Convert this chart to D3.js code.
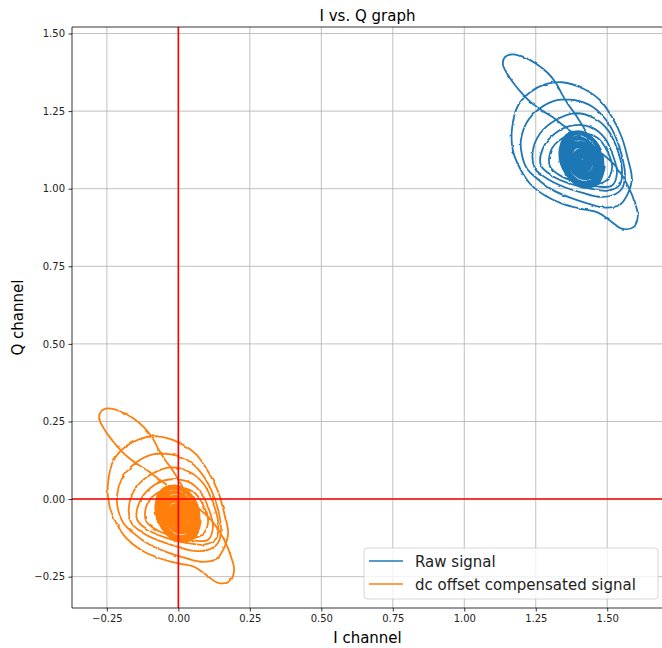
<!DOCTYPE html>
<html>
<head>
<meta charset="utf-8">
<script src="https://cdn.jsdelivr.net/npm/d3@7"></script>
<style>
  body { margin: 0; background: #fff; }
  text { font-family: "DejaVu Sans", sans-serif; }
</style>
</head>
<body>
<script>
// I/Q samples, [I, Q]
const rawSignal = [
  [1.415,1.123],[1.433,1.162],[1.391,1.236],[1.363,1.272],[1.342,1.304],[1.321,1.340],[1.293,1.372],[1.254,1.401],[1.209,1.424],[1.167,1.433],
  [1.142,1.424],[1.135,1.401],[1.149,1.372],[1.170,1.343],[1.198,1.311],[1.233,1.278],[1.272,1.252],[1.310,1.230],[1.342,1.207],[1.377,1.184],
  [1.422,1.155],[1.468,1.123],[1.527,1.075],[1.572,1.010],[1.600,0.945],[1.607,0.913],[1.593,0.877],[1.551,0.871],[1.510,0.897],[1.468,0.923],
  [1.405,0.936],[1.342,0.952],[1.282,0.978],[1.230,1.016],[1.195,1.065],[1.170,1.123],[1.167,1.194],[1.188,1.268],[1.230,1.311],[1.282,1.336],
  [1.342,1.343],[1.415,1.323],[1.475,1.285],[1.517,1.230],[1.551,1.165],[1.572,1.097],[1.586,1.033],[1.572,0.984],[1.544,0.948],[1.492,0.939],
  [1.433,0.952],[1.370,0.971],[1.307,0.997],[1.254,1.033],[1.219,1.065],[1.202,1.107],[1.198,1.155],[1.219,1.214],[1.265,1.259],[1.324,1.285],
  [1.387,1.285],[1.447,1.265],[1.492,1.226],[1.527,1.172],[1.551,1.107],[1.562,1.042],[1.551,1.000],[1.517,0.978],[1.468,0.974],[1.412,0.987],
  [1.345,1.007],[1.289,1.033],[1.247,1.065],[1.240,1.123],[1.265,1.178],[1.317,1.220],[1.387,1.243],[1.457,1.226],[1.503,1.188],[1.534,1.130],
  [1.551,1.068],[1.544,1.013],[1.503,0.994],[1.440,1.000],[1.370,1.016],[1.307,1.042],[1.268,1.075],[1.275,1.130],[1.317,1.178],[1.380,1.204],
  [1.447,1.197],[1.492,1.162],[1.520,1.107],[1.534,1.052],[1.517,1.010],[1.468,1.007],[1.405,1.020],[1.342,1.039],[1.300,1.071],[1.303,1.123],
  [1.342,1.162],[1.405,1.178],[1.464,1.165],[1.499,1.123],[1.517,1.068],[1.496,1.026],[1.447,1.016],
  [1.489,1.073],[1.466,1.017],[1.412,1.007],[1.358,1.048],[1.335,1.115],[1.358,1.171],[1.412,1.181],[1.466,1.140],
  [1.484,1.077],[1.464,1.026],[1.414,1.017],[1.365,1.054],[1.344,1.115],[1.365,1.166],[1.414,1.175],[1.464,1.138],
  [1.473,1.075],[1.455,1.030],[1.410,1.021],[1.366,1.054],[1.347,1.110],[1.366,1.155],[1.410,1.163],[1.455,1.130],
  [1.469,1.082],[1.453,1.042],[1.413,1.034],[1.373,1.064],[1.357,1.113],[1.373,1.153],[1.413,1.160],[1.453,1.131],
  [1.460,1.079],[1.446,1.045],[1.411,1.038],[1.376,1.064],[1.362,1.107],[1.376,1.142],[1.411,1.148],[1.446,1.122],
  [1.456,1.083],[1.444,1.054],[1.414,1.048],[1.384,1.070],[1.372,1.107],[1.384,1.136],[1.414,1.142],[1.444,1.120],
  [1.445,1.086],[1.435,1.062],[1.410,1.057],[1.385,1.075],[1.375,1.106],[1.385,1.131],[1.410,1.135],[1.435,1.117],
  [1.441,1.085],[1.433,1.066],[1.413,1.062],[1.393,1.077],[1.385,1.101],[1.393,1.120],[1.413,1.124],[1.433,1.109],
  [1.432,1.089],[1.426,1.075],[1.411,1.072],[1.396,1.083],[1.390,1.101],[1.396,1.115],[1.411,1.118],[1.426,1.107],
  [1.427,1.090],[1.423,1.081],[1.413,1.079],[1.403,1.086],[1.399,1.098],[1.403,1.107],[1.413,1.109],[1.423,1.102],
  [1.419,1.093],[1.417,1.088],[1.412,1.087],[1.407,1.091],[1.405,1.097],[1.407,1.102],[1.412,1.103],[1.417,1.099]
];

const compensatedSignal = [
  [0.002,-0.018],[0.020,0.021],[-0.022,0.095],[-0.050,0.131],[-0.071,0.163],[-0.092,0.199],[-0.120,0.231],[-0.158,0.260],[-0.204,0.283],[-0.246,0.292],
  [-0.270,0.283],[-0.277,0.260],[-0.263,0.231],[-0.242,0.202],[-0.214,0.170],[-0.179,0.137],[-0.141,0.111],[-0.103,0.089],[-0.071,0.066],[-0.036,0.043],
  [0.009,0.014],[0.055,-0.018],[0.114,-0.067],[0.160,-0.131],[0.188,-0.196],[0.195,-0.228],[0.181,-0.264],[0.139,-0.270],[0.097,-0.244],[0.055,-0.218],
  [-0.008,-0.206],[-0.071,-0.189],[-0.131,-0.164],[-0.183,-0.125],[-0.218,-0.076],[-0.242,-0.018],[-0.246,0.053],[-0.225,0.127],[-0.183,0.170],[-0.131,0.195],
  [-0.071,0.202],[0.002,0.182],[0.062,0.144],[0.104,0.089],[0.139,0.024],[0.160,-0.044],[0.174,-0.109],[0.160,-0.157],[0.132,-0.193],[0.079,-0.202],
  [0.020,-0.189],[-0.043,-0.170],[-0.106,-0.144],[-0.158,-0.109],[-0.193,-0.076],[-0.211,-0.034],[-0.214,0.014],[-0.193,0.073],[-0.148,0.118],[-0.089,0.144],
  [-0.026,0.144],[0.034,0.124],[0.079,0.085],[0.114,0.031],[0.139,-0.034],[0.149,-0.099],[0.139,-0.141],[0.104,-0.164],[0.055,-0.167],[-0.001,-0.154],
  [-0.068,-0.134],[-0.124,-0.109],[-0.165,-0.076],[-0.172,-0.018],[-0.148,0.037],[-0.096,0.079],[-0.026,0.102],[0.044,0.085],[0.090,0.047],[0.121,-0.012],
  [0.139,-0.073],[0.132,-0.128],[0.090,-0.147],[0.027,-0.141],[-0.043,-0.125],[-0.106,-0.099],[-0.144,-0.067],[-0.137,-0.012],[-0.096,0.037],[-0.033,0.063],
  [0.034,0.056],[0.079,0.021],[0.107,-0.034],[0.121,-0.089],[0.104,-0.131],[0.055,-0.134],[-0.008,-0.122],[-0.071,-0.102],[-0.113,-0.070],[-0.110,-0.018],
  [-0.071,0.021],[-0.008,0.037],[0.051,0.024],[0.086,-0.018],[0.104,-0.073],[0.083,-0.115],[0.034,-0.125],
  [0.076,-0.068],[0.054,-0.124],[-0.001,-0.134],[-0.055,-0.093],[-0.078,-0.026],[-0.055,0.030],[-0.001,0.040],[0.054,-0.001],
  [0.071,-0.064],[0.051,-0.115],[0.001,-0.124],[-0.048,-0.087],[-0.069,-0.026],[-0.048,0.025],[0.001,0.034],[0.051,-0.003],
  [0.060,-0.067],[0.042,-0.112],[-0.003,-0.120],[-0.047,-0.087],[-0.066,-0.032],[-0.047,0.014],[-0.003,0.022],[0.042,-0.011],
  [0.056,-0.060],[0.040,-0.100],[0.000,-0.107],[-0.039,-0.078],[-0.056,-0.029],[-0.039,0.012],[0.000,0.019],[0.040,-0.011],
  [0.047,-0.062],[0.033,-0.097],[-0.002,-0.103],[-0.036,-0.077],[-0.051,-0.034],[-0.036,0.001],[-0.002,0.007],[0.033,-0.019],
  [0.043,-0.058],[0.031,-0.087],[0.001,-0.093],[-0.028,-0.071],[-0.041,-0.034],[-0.028,-0.005],[0.001,0.001],[0.031,-0.021],
  [0.032,-0.055],[0.022,-0.080],[-0.003,-0.084],[-0.027,-0.066],[-0.038,-0.035],[-0.027,-0.011],[-0.003,-0.006],[0.022,-0.024],
  [0.028,-0.056],[0.020,-0.075],[0.000,-0.079],[-0.019,-0.064],[-0.028,-0.040],[-0.019,-0.021],[0.000,-0.017],[0.020,-0.032],
  [0.019,-0.052],[0.013,-0.066],[-0.002,-0.069],[-0.016,-0.058],[-0.023,-0.040],[-0.016,-0.026],[-0.002,-0.023],[0.013,-0.034],
  [0.014,-0.051],[0.010,-0.060],[0.000,-0.062],[-0.010,-0.055],[-0.014,-0.043],[-0.010,-0.034],[0.000,-0.032],[0.010,-0.039],
  [0.006,-0.048],[0.004,-0.053],[-0.001,-0.054],[-0.006,-0.050],[-0.008,-0.044],[-0.006,-0.039],[-0.001,-0.038],[0.004,-0.042]
];

// index where the dense centre cluster starts in both series
const coreStart = 107;

const seriesNames = ['Raw signal', 'dc offset compensated signal'];
const seriesColors = ['#1f77b4', '#ff7f0e'];
const xTicks = [-0.25, 0, 0.25, 0.5, 0.75, 1.0, 1.25, 1.5];
const yTicks = [-0.25, 0, 0.25, 0.5, 0.75, 1.0, 1.25, 1.5];

const width = 662, height = 648;
const plotLeft = 72, plotRight = 663, plotTop = 27, plotBottom = 608;

const x = d3.scaleLinear().domain([-0.372, 1.695]).range([plotLeft, plotRight]);
const y = d3.scaleLinear().domain([-0.351, 1.521]).range([plotBottom, plotTop]);

const svg = d3.select('body').append('svg')
  .attr('width', width)
  .attr('height', height);

svg.append('rect').attr('width', width).attr('height', height).attr('fill', '#fff');

// mild wobble so traces look like the noisy sampled signal
const filter = svg.append('defs').append('filter')
  .attr('id', 'noisy')
  .attr('filterUnits', 'userSpaceOnUse')
  .attr('x', 0).attr('y', 0).attr('width', width).attr('height', height);
filter.append('feTurbulence')
  .attr('type', 'fractalNoise')
  .attr('baseFrequency', 0.18)
  .attr('numOctaves', 1)
  .attr('seed', 3)
  .attr('result', 'turb');
filter.append('feDisplacementMap')
  .attr('in', 'SourceGraphic')
  .attr('in2', 'turb')
  .attr('scale', 2.5)
  .attr('xChannelSelector', 'R')
  .attr('yChannelSelector', 'G');

const fmt = d => d3.format('.2f')(d).replace('-', '\u2212');

// grid
svg.append('g')
  .selectAll('line')
  .data(xTicks)
  .enter().append('line')
  .attr('x1', d => x(d)).attr('x2', d => x(d))
  .attr('y1', plotTop).attr('y2', plotBottom)
  .attr('stroke', '#b0b0b0').attr('stroke-width', 0.8);

svg.append('g')
  .selectAll('line')
  .data(yTicks)
  .enter().append('line')
  .attr('x1', plotLeft).attr('x2', plotRight)
  .attr('y1', d => y(d)).attr('y2', d => y(d))
  .attr('stroke', '#b0b0b0').attr('stroke-width', 0.8);

// signals
const line = d3.line()
  .x(d => x(d[0]))
  .y(d => y(d[1]))
  .curve(d3.curveCatmullRom.alpha(0.5));

const plot = svg.append('g').attr('filter', 'url(#noisy)');
[rawSignal, compensatedSignal].forEach((data, i) => {
  plot.append('path')
    .datum(data)
    .attr('d', line)
    .attr('fill', 'none')
    .attr('stroke', seriesColors[i])
    .attr('stroke-width', 1.8)
    .attr('stroke-linejoin', 'round');
  plot.append('path')
    .datum(data.slice(coreStart))
    .attr('d', line)
    .attr('fill', 'none')
    .attr('stroke', seriesColors[i])
    .attr('stroke-width', 3.4)
    .attr('stroke-linejoin', 'round');
});

// zero lines
svg.append('line')
  .attr('x1', plotLeft).attr('x2', plotRight)
  .attr('y1', y(0)).attr('y2', y(0))
  .attr('stroke', 'red').attr('stroke-width', 1.6);
svg.append('line')
  .attr('x1', x(0)).attr('x2', x(0))
  .attr('y1', plotTop).attr('y2', plotBottom)
  .attr('stroke', 'red').attr('stroke-width', 1.6);

// axes
const xAxis = svg.append('g')
  .attr('transform', 'translate(0,' + plotBottom + ')')
  .call(d3.axisBottom(x).tickValues(xTicks).tickFormat(fmt).tickSizeOuter(0).tickSize(3.5).tickPadding(3.5));
const yAxis = svg.append('g')
  .attr('transform', 'translate(' + plotLeft + ',0)')
  .call(d3.axisLeft(y).tickValues(yTicks).tickFormat(fmt).tickSizeOuter(0).tickSize(3.5).tickPadding(3.5));

[xAxis, yAxis].forEach(g => {
  g.select('.domain').remove();
  g.selectAll('.tick line').attr('stroke', '#000').attr('stroke-width', 0.8);
  g.selectAll('.tick text')
    .style('font-family', '"DejaVu Sans", sans-serif')
    .style('font-size', '10px')
    .attr('fill', '#222');
});

// spines
svg.append('line').attr('x1', plotLeft).attr('x2', plotLeft).attr('y1', plotTop).attr('y2', plotBottom)
  .attr('stroke', '#000').attr('stroke-width', 0.8);
svg.append('line').attr('x1', plotLeft).attr('x2', plotRight).attr('y1', plotBottom).attr('y2', plotBottom)
  .attr('stroke', '#000').attr('stroke-width', 0.8);
svg.append('line').attr('x1', plotLeft).attr('x2', plotRight).attr('y1', plotTop).attr('y2', plotTop)
  .attr('stroke', '#000').attr('stroke-width', 0.8);

// titles
svg.append('text')
  .attr('x', (plotLeft + plotRight) / 2).attr('y', 21)
  .attr('text-anchor', 'middle')
  .style('font-size', '15px')
  .text('I vs. Q graph');

svg.append('text')
  .attr('x', (plotLeft + plotRight) / 2).attr('y', 643)
  .attr('text-anchor', 'middle')
  .style('font-size', '15px')
  .text('I channel');

svg.append('text')
  .attr('transform', 'translate(23,' + (plotTop + plotBottom) / 2 + ')rotate(-90)')
  .attr('text-anchor', 'middle')
  .style('font-size', '15px')
  .text('Q channel');

// legend
const legend = svg.append('g');
legend.append('rect')
  .attr('x', 364).attr('y', 548)
  .attr('width', 294).attr('height', 51)
  .attr('rx', 3)
  .attr('fill', '#fff').attr('fill-opacity', 0.8)
  .attr('stroke', '#ccc').attr('stroke-width', 0.8);

seriesNames.forEach((name, i) => {
  const ly = 561 + i * 23;
  legend.append('line')
    .attr('x1', 369).attr('x2', 403)
    .attr('y1', ly).attr('y2', ly)
    .attr('stroke', seriesColors[i]).attr('stroke-width', 1.6);
  legend.append('text')
    .attr('x', 415).attr('y', ly + 5.5)
    .style('font-size', '15px')
    .attr('fill', '#222')
    .text(name);
});
</script>
</body>
</html>
